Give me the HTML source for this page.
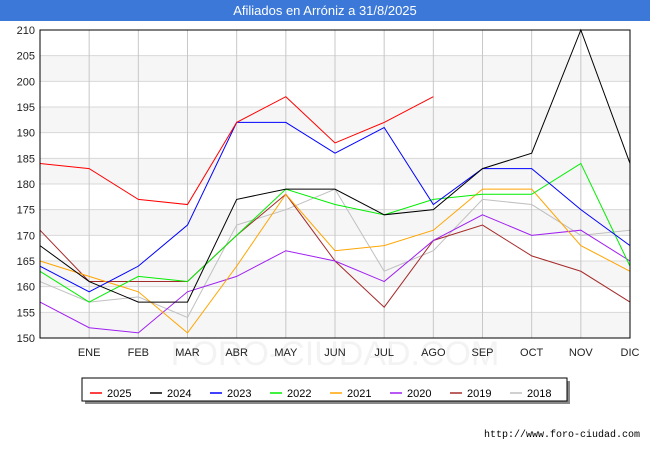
<!DOCTYPE html>
<html><head><meta charset="utf-8"><style>
body{margin:0;background:#fff;font-family:"Liberation Sans",sans-serif}
#title{position:absolute;left:0;top:0;width:650px;height:21px;background:#3b78d8;color:#fff;font-size:13px;text-align:center;line-height:21px}
</style></head><body>
<div id="title">Afiliados en Arróniz a 31/8/2025</div>
<svg id="c" width="650" height="450" style="position:absolute;left:0;top:0;z-index:-1"></svg>
<script>
const months=["","ENE","FEB","MAR","ABR","MAY","JUN","JUL","AGO","SEP","OCT","NOV","DIC"];
const yTicks=[150,155,160,165,170,175,180,185,190,195,200,205,210];
const seriesNames=["2025","2024","2023","2022","2021","2020","2019","2018"];
const colors=["#ff0000","#000000","#0000ff","#00ee00","#ffa500","#a020f0","#a52a2a","#c0c0c0"];
const s2025=[184,183,177,176,192,197,188,192,197];
const s2024=[168,161,157,157,177,179,179,174,175,183,186,210,184];
const s2023=[164,159,164,172,192,192,186,191,176,183,183,175,168];
const s2022=[163,157,162,161,170,179,176,174,177,178,178,184,164];
const s2021=[165,162,159,151,164,178,167,168,171,179,179,168,163];
const s2020=[157,152,151,159,162,167,165,161,169,174,170,171,165];
const s2019=[171,161,161,161,170,178,165,156,169,172,166,163,157];
const s2018=[161,157,158,154,172,175,179,163,167,177,176,170,171];
const data=[s2025,s2024,s2023,s2022,s2021,s2020,s2019,s2018];
const X0=40,X1=630,Y0=338,Y1=30;
const xs=i=>X0+i*(X1-X0)/12;
const ys=v=>Y0-(v-150)*(Y0-Y1)/60;
const svg=document.getElementById('c');
const NS="http://www.w3.org/2000/svg";
function mk(t,a,p){const e=document.createElementNS(NS,t);for(const k in a)e.setAttribute(k,a[k]);(p||svg).appendChild(e);return e;}
for(let i=0;i<yTicks.length-1;i+=2){
 const b=mk('rect',{x:X0,y:ys(yTicks[i+1]),width:X1-X0,height:ys(yTicks[i])-ys(yTicks[i+1]),fill:'#f6f6f6'});
 
 
}
const wm=mk('text',{x:335,y:365,'text-anchor':'middle','font-size':34,fill:'#f3f3f3'});
wm.textContent='FORO-CIUDAD.COM';


yTicks.forEach(v=>{
 const l=mk('line',{x1:X0,x2:X1,y1:ys(v),y2:ys(v),stroke:'#d8d8d8'});
 
 
 const t=mk('text',{x:X0-5,y:ys(v)+4,'text-anchor':'end','font-size':11,fill:'#222'});
 t.textContent=v;
 
 
});
months.forEach((m,i)=>{
 if(i>0){const l=mk('line',{x1:xs(i),x2:xs(i),y1:Y1,y2:Y0,stroke:'#c8c8c8'});
 
 }
 const t=mk('text',{x:xs(i),y:356,'text-anchor':'middle','font-size':11,fill:'#222'});
 t.textContent=m;
 
 
});
for(let k=data.length-1;k>=0;k--){
 const p=mk('polyline',{points:data[k].map((v,i)=>xs(i)+','+ys(v)).join(' '),fill:'none',stroke:colors[k],'stroke-width':1});
 
 
}
const fr=mk('rect',{x:X0,y:Y1,width:X1-X0,height:Y0-Y1,fill:'none',stroke:'#000','stroke-width':1});


const sh=mk('rect',{x:85,y:381,width:485,height:23,fill:'#888'});


const lg=mk('rect',{x:82,y:378,width:485,height:23,fill:'#fff',stroke:'#000'});


seriesNames.forEach((n,k)=>{
 const x=90+k*60;
 const l=mk('line',{x1:x,x2:x+12,y1:393,y2:393,stroke:colors[k],'stroke-width':1.5});
 
 
 const t=mk('text',{x:x+17,y:397,'font-size':11,fill:'#000'});
 t.textContent=n;
 
 
});
const u=mk('text',{x:640,y:437,'text-anchor':'end','font-size':10,fill:'#000','font-family':'Liberation Mono, monospace'});
u.textContent='http://www.foro-ciudad.com';


</script>
</body></html>
